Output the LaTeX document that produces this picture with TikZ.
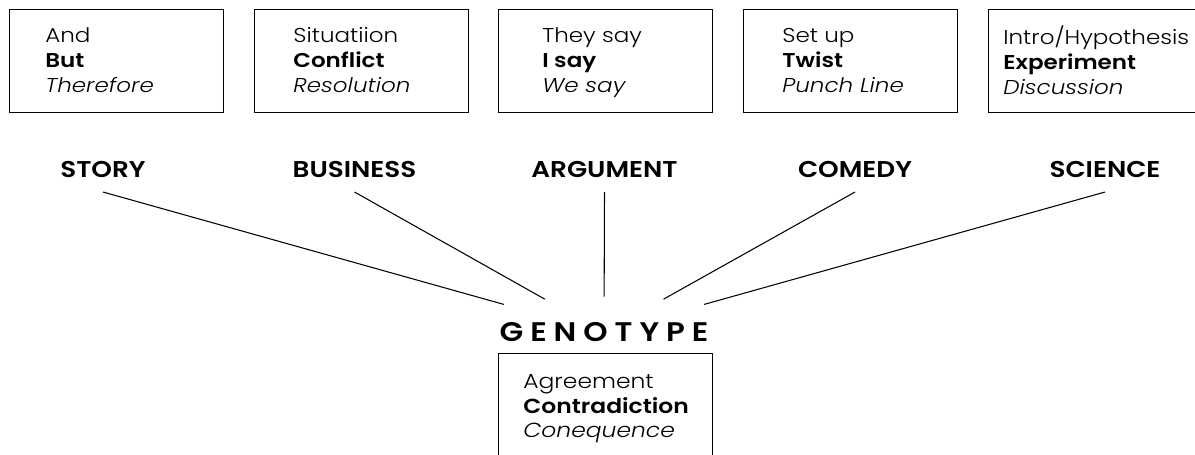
\documentclass[tikz,border=0pt]{standalone}
\usepackage{fontspec}
\setmainfont{Poppins Light}[FakeStretch=1.15, BoldFont=Poppins SemiBold,
  ItalicFont=Poppins Light Italic, BoldItalicFont=Poppins SemiBold Italic]
\usetikzlibrary{shapes.geometric}

\tikzset{
  card/.style={draw, line width=.8pt, anchor=north west, inner sep=0pt, minimum width=4.28cm, minimum height=2.06cm},
  beats/.style={anchor=west, align=left, inner sep=0pt, text depth=0pt, font=\fontsize{11.4}{14.2}\selectfont},
  kind/.style={font=\bfseries\fontsize{13}{15}\selectfont, inner sep=0pt, text depth=0pt, outer ysep=8.5pt},
  geno/.style={ellipse, minimum width=6.44cm, minimum height=1.42cm, inner sep=0pt,
    font=\bfseries\fontsize{15.3}{17}\selectfont\addfontfeature{LetterSpace=26}},
  link/.style={line width=.6pt}
}

\begin{document}
\begin{tikzpicture}[x=0.02cm,y=-0.02cm]
\useasboundingbox (0,0) rectangle (1195,455);
% the five structures
\node[card] (andbox) at (9,9) {};
\node[card] (sitbox) at (254,9) {};
\node[card] (saybox) at (498,9) {};
\node[card] (setbox) at (743,9) {};
\node[card] (introbox) at (988,9) {};
\node[beats] (andtxt) at (45,60) {And\\\textbf{But}\\\textit{Therefore}};
\node[beats] (sittxt) at (293,60) {Situatiion\\\textbf{Conflict}\\\textit{Resolution}};
\node[beats] (saytxt) at (542,60) {They say\\\textbf{I say}\\\textit{We say}};
\node[beats] (settxt) at (782,60) {Set up\\\textbf{Twist}\\\textit{Punch Line}};
\node[beats] (introtxt) at (1003,60) {Intro/Hypothesis\\\textbf{Experiment}\\\textit{Discussion}};

\node[kind] (story) at (103,169) {STORY};
\node[kind] (business) at (354.5,169) {BUSINESS};
\node[kind] (argument) at (604.5,169) {ARGUMENT};
\node[kind] (comedy) at (855,169) {COMEDY};
\node[kind] (science) at (1105,169) {SCIENCE};

\node[geno] (geno) at (604,332.5) {GENOTYPE};
\foreach \k in {story,business,argument,comedy,science}
  \draw[link] (\k.south) -- (geno);

% the common form
\node[card, minimum height=3cm] (genebox) at (498,353) {};
\node[beats, font=\fontsize{11.6}{13.9}\selectfont] (genetxt) at (523,406)
  {Agreement\\\textbf{Contradiction}\\\textit{Conequence}};
\end{tikzpicture}
\end{document}
